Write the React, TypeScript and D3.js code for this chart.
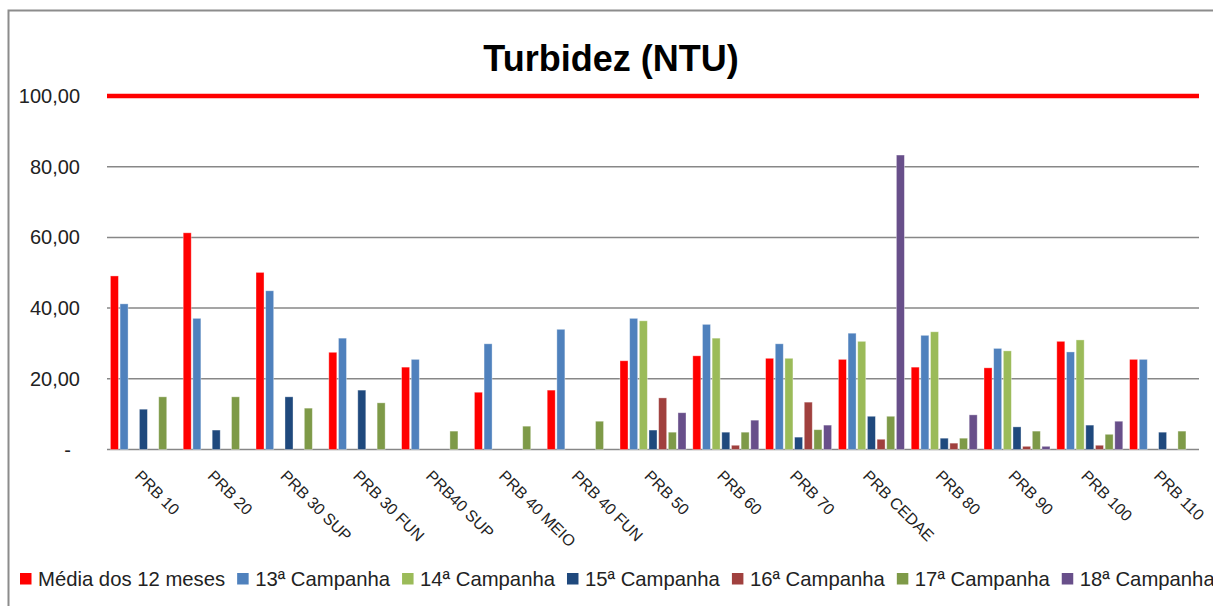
import React, { useEffect, useRef } from "react";
import * as d3 from "d3";

const categories = [
  "PRB 10", "PRB 20", "PRB 30 SUP", "PRB 30 FUN", "PRB40 SUP", "PRB 40 MEIO", "PRB 40 FUN",
  "PRB 50", "PRB 60", "PRB 70", "PRB CEDAE", "PRB 80", "PRB 90", "PRB 100", "PRB 110",
];

const seriesNames = [
  "Média dos 12 meses", "13ª Campanha", "14ª Campanha", "15ª Campanha",
  "16ª Campanha", "17ª Campanha", "18ª Campanha",
];

const media12 = [49.1, 61.3, 50.1, 27.5, 23.3, 16.2, 16.8, 25.1, 26.5, 25.8, 25.5, 23.3, 23.1, 30.6, 25.5];
const camp13 = [41.2, 37.1, 44.9, 31.5, 25.5, 29.9, 34.0, 37.1, 35.4, 29.9, 32.9, 32.3, 28.6, 27.6, 25.5];
const camp14 = [null, null, null, null, null, null, null, 36.4, 31.5, 25.8, 30.6, 33.3, 27.9, 31.0, null];
const camp15 = [11.4, 5.5, 14.9, 16.8, null, null, null, 5.5, 4.9, 3.5, 9.4, 3.2, 6.4, 6.9, 4.9];
const camp16 = [null, null, null, null, null, null, null, 14.6, 1.2, 13.4, 2.9, 1.8, 0.9, 1.2, null];
const camp17 = [14.9, 14.9, 11.7, 13.2, 5.2, 6.6, 8.0, 4.9, 4.9, 5.6, 9.4, 3.2, 5.2, 4.3, 5.2];
const camp18 = [null, null, null, null, null, null, null, 10.4, 8.3, 6.9, 83.3, 9.8, 0.9, 8.0, null];

const seriesValues = [media12, camp13, camp14, camp15, camp16, camp17, camp18];
const seriesColors = ["#FF0000", "#4F81BD", "#9BBB59", "#1F497D", "#A0403E", "#7E9A48", "#684F8A"];

const yTicks = [0, 20, 40, 60, 80, 100];
const limitValue = 100;
const title = "Turbidez (NTU)";

const W = 1213;
const H = 606;

export default function App() {
  const ref = useRef<SVGSVGElement | null>(null);

  useEffect(() => {
    const svg = d3.select(ref.current);
    svg.selectAll("*").remove();

    const left = 107, right = 1199, top = 96, bottom = 449.5;
    const font = "'Liberation Sans', Arial, sans-serif";

    // chart border
    svg.append("rect")
      .attr("x", 8.5).attr("y", 10.5).attr("width", 1230).attr("height", 620)
      .attr("fill", "#fff").attr("stroke", "#8c8c8c").attr("stroke-width", 2);

    const y = d3.scaleLinear().domain([0, 100]).range([bottom, top]);
    const x0 = d3.scaleBand<string>().domain(categories).range([left, right]).padding(0);
    const x1 = d3.scaleBand<string>().domain(seriesNames)
      .range([3.4, x0.bandwidth() - 3.4]).paddingInner(0.17).paddingOuter(0);

    // title
    svg.append("text")
      .attr("x", 611).attr("y", 71).attr("text-anchor", "middle")
      .attr("font-family", font).attr("font-weight", "bold").attr("font-size", 36)
      .attr("fill", "#000").text(title);

    // gridlines
    const fmt = (v: number) => (v === 0 ? "-" : d3.format(".2f")(v).replace(".", ","));
    svg.append("g").selectAll("line").data(yTicks.filter((t) => t !== limitValue)).join("line")
      .attr("x1", left).attr("x2", right)
      .attr("y1", (d) => y(d)).attr("y2", (d) => y(d))
      .attr("stroke", "#878787").attr("stroke-width", 1.5);

    svg.append("g").selectAll("text").data(yTicks).join("text")
      .attr("x", (d) => (d === 0 ? 71 : 80))
      .attr("y", (d) => y(d) + 7)
      .attr("text-anchor", "end")
      .attr("font-family", font).attr("font-size", 20).attr("fill", "#222")
      .text((d) => fmt(d));

    // bars
    const g = svg.append("g");
    seriesNames.forEach((s, si) => {
      const vals = seriesValues[si];
      g.append("g").selectAll("rect")
        .data(categories.map((c, i) => ({ c, v: vals[i] })).filter((d) => d.v !== null))
        .join("rect")
        .attr("x", (d) => (x0(d.c) as number) + (x1(s) as number))
        .attr("width", x1.bandwidth())
        .attr("y", (d) => y(d.v as number))
        .attr("height", (d) => bottom - y(d.v as number))
        .attr("fill", seriesColors[si])
        .attr("stroke", "#ffffff").attr("stroke-opacity", 0.45).attr("stroke-width", 0.8);
    });

    // limit line
    svg.append("line")
      .attr("x1", left).attr("x2", right)
      .attr("y1", y(limitValue)).attr("y2", y(limitValue))
      .attr("stroke", "#FF0000").attr("stroke-width", 4.5);

    // x labels
    svg.append("g").selectAll("text").data(categories).join("text")
      .attr("transform", (d) => {
        const cx = (x0(d) as number) + x0.bandwidth() / 2 - 9.5;
        return `translate(${cx},477) rotate(45)`;
      })
      .attr("font-family", font).attr("font-size", 16).attr("fill", "#222")
      .text((d) => d);

    // legend
    const lg = svg.append("g");
    let lx = 20;
    seriesNames.forEach((s, si) => {
      lg.append("rect").attr("x", lx).attr("y", 573).attr("width", 11.5).attr("height", 11.5)
        .attr("fill", seriesColors[si]);
      const t = lg.append("text").attr("x", lx + 18).attr("y", 586)
        .attr("font-family", font).attr("font-size", 20.3).attr("fill", "#222").text(s);
      const len = (t.node() as SVGTextElement).getComputedTextLength();
      lx = lx + 18 + len + 12;
    });
  }, []);

  return (
    <svg
      ref={ref}
      width={W}
      height={H}
      style={{ position: "fixed", left: 0, top: 0, background: "#fff" }}
    />
  );
}
